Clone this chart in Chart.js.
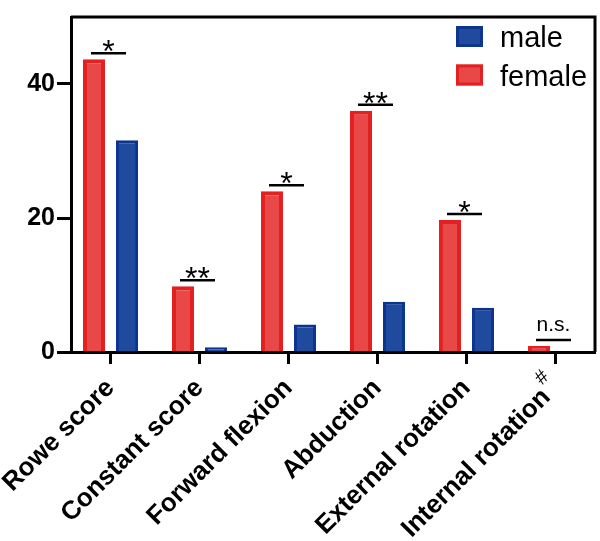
<!DOCTYPE html>
<html>
<head>
<meta charset="utf-8">
<script src="https://cdn.jsdelivr.net/npm/chart.js@4"></script>
<style>
  html, body { margin: 0; padding: 0; background: #fff; }
</style>
</head>
<body>
<canvas id="sexChart" width="600" height="541"></canvas>
<script>
const categories = ["Rowe score", "Constant score", "Forward flexion", "Abduction", "External rotation", "Internal rotation"];
const superscripts = ["", "", "", "", "", "#"];
const femaleValues = [43.7, 9.8, 24.0, 36.0, 19.7, 0.9];
const maleValues = [31.6, 0.7, 4.1, 7.5, 6.6, 0];
const significance = ["*", "**", "*", "**", "*", "n.s."];
const yTicks = [0, 20, 40];

const FONT = "'Liberation Sans', Arial, sans-serif";

// top and right side of the box
const framePlugin = {
    id: "frame",
    afterDraw(chart) {
        const { ctx, chartArea: a } = chart;
        ctx.save();
        ctx.strokeStyle = "#000";
        ctx.lineWidth = 3;
        ctx.beginPath();
        ctx.moveTo(a.left, a.top);
        ctx.lineTo(a.right, a.top);
        ctx.lineTo(a.right, a.bottom);
        ctx.stroke();
        ctx.restore();
    },
};

// significance bars above each pair
const sigPlugin = {
    id: "sig",
    afterDatasetsDraw(chart) {
        const ctx = chart.ctx;
        const f = chart.getDatasetMeta(0).data;
        const m = chart.getDatasetMeta(1).data;
        ctx.save();
        significance.forEach((txt, i) => {
            const x1 = f[i].x - 3;
            const x2 = m[i].x - 1;
            const y = Math.min(f[i].y, m[i].y) - 6;
            ctx.strokeStyle = "#000";
            ctx.lineWidth = 2.5;
            ctx.beginPath();
            ctx.moveTo(x1, y);
            ctx.lineTo(x2, y);
            ctx.stroke();
            ctx.fillStyle = "#000";
            ctx.textAlign = "center";
            ctx.textBaseline = "alphabetic";
            if (txt.startsWith("*")) {
                ctx.font = "32px " + FONT;
                ctx.fillText(txt, (x1 + x2) / 2, y + 9);
            } else {
                ctx.font = "21px " + FONT;
                ctx.fillText(txt, (x1 + x2) / 2, y - 9);
            }
        });
        ctx.restore();
    },
};

// legend inside the plot, male first
const legendPlugin = {
    id: "boxLegend",
    afterDraw(chart) {
        const { ctx, chartArea: a } = chart;
        const sets = chart.data.datasets.slice().reverse();
        ctx.save();
        sets.forEach((ds, row) => {
            const bx = a.right - 139;
            const by = a.top + 9 + row * 38.5;
            ctx.fillStyle = ds.backgroundColor;
            ctx.fillRect(bx, by, 27, 21);
            ctx.strokeStyle = ds.borderColor;
            ctx.lineWidth = 3;
            ctx.strokeRect(bx + 1.5, by + 1.5, 24, 18);
            ctx.fillStyle = "#000";
            ctx.font = "29px " + FONT;
            ctx.textAlign = "left";
            ctx.textBaseline = "alphabetic";
            ctx.fillText(ds.label, bx + 44, by + 21);
        });
        ctx.restore();
    },
};

// small superscript mark after a tick label
const supPlugin = {
    id: "sup",
    afterDraw(chart) {
        const xs = chart.scales.x;
        if (!xs.getLabelItems) return;
        const items = xs.getLabelItems();
        const ctx = chart.ctx;
        items.forEach((it, i) => {
            const mark = superscripts[i];
            if (!mark) return;
            const [tx, ty] = it.options.translation;
            ctx.save();
            ctx.translate(tx, ty);
            ctx.rotate(it.options.rotation);
            ctx.font = "20px " + FONT;
            ctx.fillStyle = "#000";
            ctx.textAlign = "center";
            ctx.textBaseline = "middle";
            ctx.fillText(mark, -5, (it.textOffset || 0) - 14);
            ctx.restore();
        });
    },
};

const ctx = document.getElementById("sexChart").getContext("2d");

new Chart(ctx, {
    type: "bar",
    data: {
        datasets: [
            {
                label: "female",
                data: femaleValues.map((v, i) => ({ x: i, y: v })),
                backgroundColor: "#e84848",
                borderColor: "#e52020",
                borderWidth: 4,
                categoryPercentage: 0.742,
                barPercentage: 0.667,
            },
            {
                label: "male",
                data: maleValues.map((v, i) => ({ x: i, y: v })),
                backgroundColor: "#1f4a9d",
                borderColor: "#0d3590",
                borderWidth: 3,
                categoryPercentage: 0.742,
                barPercentage: 0.667,
            },
        ],
    },
    options: {
        responsive: false,
        animation: false,
        devicePixelRatio: 1,
        layout: { padding: { top: 3, right: 5, left: 0, bottom: 0 } },
        plugins: {
            legend: { display: false },
            tooltip: { enabled: false },
        },
        scales: {
            x: {
                type: "linear",
                offset: false,
                min: -0.444,
                max: 5.444,
                afterBuildTicks: (s) => {
                    s.ticks = categories.map((_, i) => ({ value: i }));
                },
                afterFit: (s) => {
                    s.height = 189;
                    s.paddingLeft = 0;
                    s.paddingRight = 0;
                },
                grid: {
                    display: true,
                    offset: false,
                    drawOnChartArea: false,
                    tickLength: 12,
                    tickWidth: 3,
                    tickColor: "#000",
                },
                border: { display: true, width: 3, color: "#000" },
                ticks: {
                    minRotation: 45,
                    maxRotation: 45,
                    autoSkip: false,
                    padding: 9,
                    color: "#000",
                    font: { family: FONT, size: 26, weight: "bold" },
                    callback: (v) => categories[v] + (superscripts[v] ? "\u2002" : ""),
                },
            },
            y: {
                min: 0,
                max: 50,
                afterBuildTicks: (s) => {
                    s.ticks = yTicks.map((v) => ({ value: v }));
                },
                afterFit: (s) => {
                    s.width = 71;
                },
                grid: {
                    display: true,
                    drawOnChartArea: false,
                    tickLength: 14,
                    tickWidth: 3,
                    tickColor: "#000",
                },
                border: { display: true, width: 3, color: "#000" },
                ticks: {
                    padding: 2,
                    color: "#000",
                    font: { family: FONT, size: 25, weight: "bold" },
                },
            },
        },
    },
    plugins: [framePlugin, sigPlugin, legendPlugin, supPlugin],
});
</script>
</body>
</html>
